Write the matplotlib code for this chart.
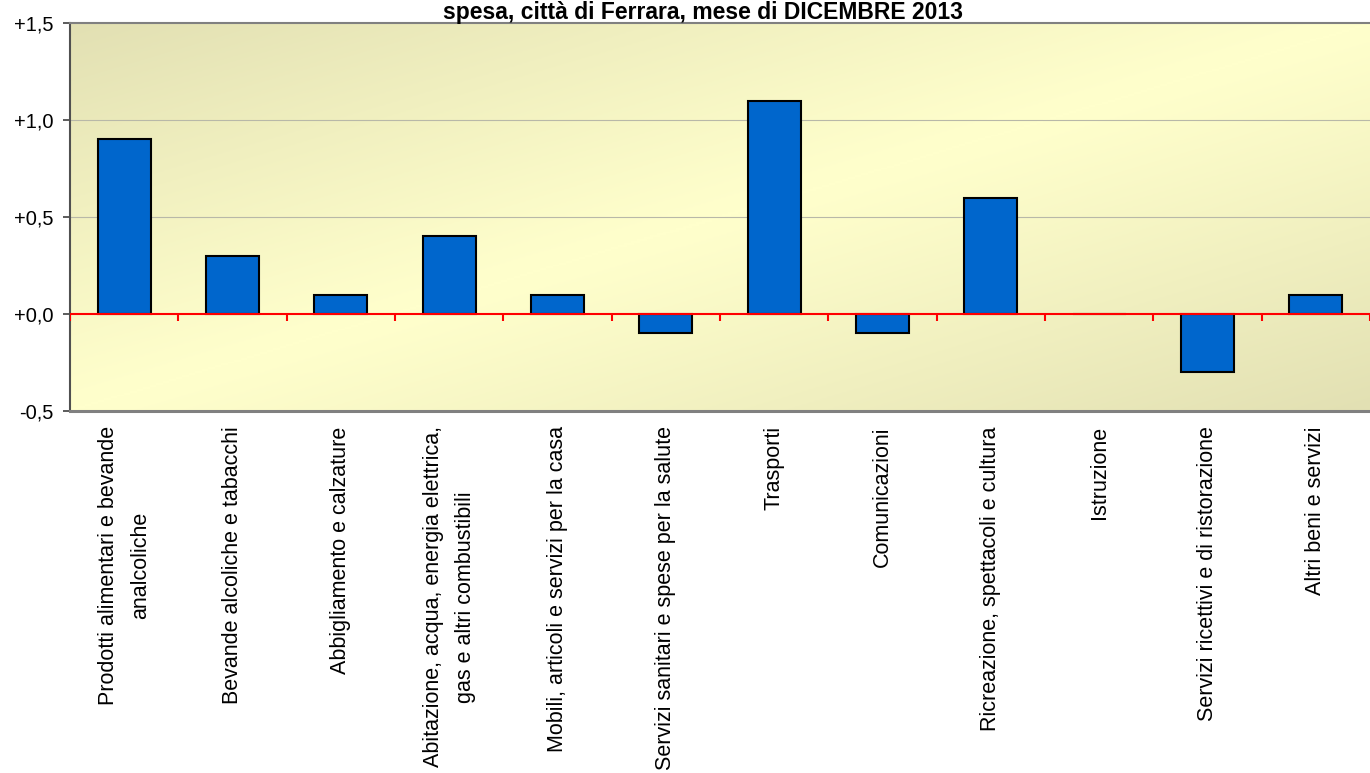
import numpy as np
import matplotlib
matplotlib.use('Agg')
import matplotlib.pyplot as plt
from matplotlib.colors import LinearSegmentedColormap

categories = [
    'Prodotti alimentari e bevande\nanalcoliche',
    'Bevande alcoliche e tabacchi',
    'Abbigliamento e calzature',
    'Abitazione, acqua, energia elettrica,\ngas e altri combustibili',
    'Mobili, articoli e servizi per la casa',
    'Servizi sanitari e spese per la salute',
    'Trasporti',
    'Comunicazioni',
    'Ricreazione, spettacoli e cultura',
    'Istruzione',
    'Servizi ricettivi e di ristorazione',
    'Altri beni e servizi',
]
values = [0.9, 0.3, 0.1, 0.4, 0.1, -0.1, 1.1, -0.1, 0.6, 0.0, -0.3, 0.1]
yticks = [-0.5, 0.0, 0.5, 1.0, 1.5]
ytick_labels = ['-0,5', '+0,0', '+0,5', '+1,0', '+1,5']
title = 'spesa, città di Ferrara, mese di DICEMBRE 2013'

plt.rcParams['font.family'] = ['Liberation Sans', 'DejaVu Sans']

fig = plt.figure(figsize=(13.7, 7.73), dpi=100)
ax = fig.add_axes([70/1370, 1-411/773, 1300/1370, 388/773])

# diagonal gradient background (dark corners top-left / bottom-right)
nx, ny = 400, 200
gx, gy = np.meshgrid(np.linspace(0, 1, nx), np.linspace(1, 0, ny))
grad = np.abs(gx - gy) ** 1.1
cmap = LinearSegmentedColormap.from_list('bg', ['#FFFFCC', '#E2E0B3'])
ax.imshow(grad, extent=[0, 1, 0, 1], transform=ax.transAxes, aspect='auto',
          cmap=cmap, vmin=0, vmax=1, zorder=0, interpolation='bilinear')

x = np.arange(len(categories))
ax.bar(x, values, width=0.49, color='#0066CC', edgecolor='black', linewidth=1.5, zorder=3)

ax.set_xlim(-0.5, len(categories) - 0.5)
ax.set_ylim(yticks[0], yticks[-1])

for yv in [0.5, 1.0]:
    ax.axhline(yv, color='#B8B8A8', linewidth=0.8, zorder=1)

# zero line with red category separators
ax.axhline(0, color='#FF0000', linewidth=1.5, zorder=4)
tick_len = 7 / 194
for b in np.arange(-0.5, len(categories), 1.0):
    ax.plot([b, b], [0, -tick_len], color='#FF0000', linewidth=1.5, zorder=4,
            solid_capstyle='butt')

ax.set_yticks(yticks)
ax.set_yticklabels(ytick_labels, fontsize=14.5)
ax.tick_params(axis='y', direction='out', length=5, width=1.2, color='#404040', pad=7)

ax.set_xticks(x)
ax.set_xticklabels(categories, rotation=90, fontsize=15.5, va='top', ha='center',
                   multialignment='center', linespacing=1.7)
ax.tick_params(axis='x', length=0, pad=11)

ax.spines['right'].set_visible(False)
ax.spines['left'].set_color('#505050')
ax.spines['left'].set_linewidth(1.5)
ax.spines['bottom'].set_color('#808080')
ax.spines['bottom'].set_linewidth(2.2)
ax.spines['top'].set_color('#808080')
ax.spines['top'].set_linewidth(1.5)

fig.text(703/1370, 1 - 19/773, title, ha='center', va='baseline', fontsize=16.5,
         fontweight='bold', zorder=5)

plt.savefig('out.png', dpi=100)
